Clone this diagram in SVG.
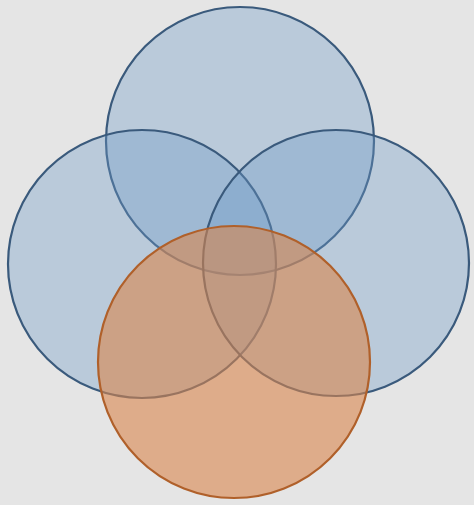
<svg xmlns="http://www.w3.org/2000/svg" width="474" height="505" viewBox="0 0 474 505">
<style>
.blue{fill:#6f9bc8;fill-opacity:0.36;stroke:#3a5a7c;stroke-width:2.2}
.orange{fill:#d9864d;fill-opacity:0.6;stroke:#b0602a;stroke-width:2.2}
</style>
<rect width="474" height="505" fill="#e5e5e5"/>
<g id="top"><circle class="blue" cx="240" cy="141" r="134"/></g>
<g id="left"><circle class="blue" cx="142" cy="264" r="134"/></g>
<g id="right"><circle class="blue" cx="336" cy="263" r="133"/></g>
<g id="bottom"><circle class="orange" cx="234" cy="362" r="136"/></g>
<g id="connectors"></g>
</svg>
